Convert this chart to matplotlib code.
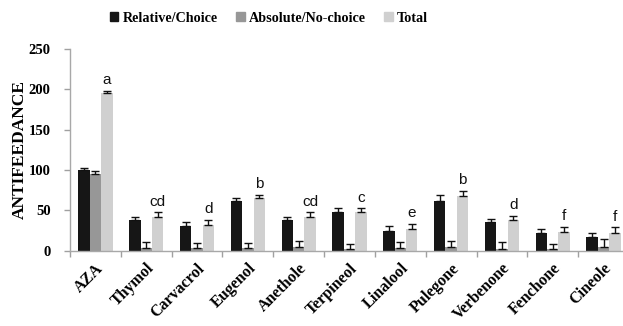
import matplotlib
matplotlib.use("Agg")
import matplotlib.pyplot as plt
from matplotlib.patches import Patch
import numpy as np

categories = ["AZA", "Thymol", "Carvacrol", "Eugenol", "Anethole", "Terpineol",
              "Linalool", "Pulegone", "Verbenone", "Fenchone", "Cineole"]
relative = [100, 38, 30, 62, 38, 48, 24, 62, 35, 21.5, 16.5]
relative_err = [3, 4, 5, 3, 4, 5, 6, 6.5, 4, 6, 5.5]
absolute = [94.5, 3.5, 3, 3, 4, 2, 3, 5, 2.5, 2, 5]
absolute_err = [4.5, 7.5, 6, 6, 8, 6, 8, 6.5, 8, 6, 9.5]
total = [195, 42, 32, 65, 42, 48, 27.5, 68, 38, 23.5, 22.5]
total_err = [3, 5.5, 6.5, 4.5, 5.5, 4.5, 5.5, 6, 5, 6, 6.5]
letters = ["a", "cd", "d", "b", "cd", "c", "e", "b", "d", "f", "f"]
series_names = ["Relative/Choice", "Absolute/No-choice", "Total"]
colors = ["#161616", "#979797", "#d0d0d0"]

fig = plt.figure(figsize=(6.23, 3.26), dpi=100)
ax = fig.add_axes([70/623, 75.3/326, 559/623, 201.8/326])

x = np.arange(len(categories))
w = 0.225
serif = "Liberation Serif"
for vals, errs, off, c in zip([relative, absolute, total],
                              [relative_err, absolute_err, total_err],
                              [-w, 0, w], colors):
    ax.bar(x + off, vals, width=w, color=c, zorder=2)
    ax.errorbar(x + off, vals, yerr=[np.zeros(len(errs)), errs], fmt="none",
                ecolor="#111111", elinewidth=1, capsize=3, capthick=1, zorder=3)

for xi, v, e, lab in zip(x, total, total_err, letters):
    ax.text(xi + w, v + e + 4.5, lab, ha="center", va="bottom",
            fontsize=11, family="Liberation Sans", color="#111111")

ax.set_xlim(-0.5, 10.5)
ax.set_ylim(0, 250)
ax.set_yticks([0, 50, 100, 150, 200, 250])
ax.set_yticklabels([str(v) for v in [0, 50, 100, 150, 200, 250]],
                   family=serif, fontweight="bold", fontsize=10.5)
ax.set_xticks(x)
ax.set_xticklabels(categories, rotation=45, ha="right", rotation_mode="anchor",
                   family=serif, fontweight="bold", fontsize=11.5)
ax.set_xticks(np.arange(-0.5, 10.6, 1), minor=True)
ax.tick_params(axis="x", which="major", length=0, pad=7)
ax.tick_params(axis="x", which="minor", length=4, color="#a0a0a0", width=1)
ax.tick_params(axis="y", length=4, color="#a0a0a0", width=1, pad=10)

for s in ["top", "right"]:
    ax.spines[s].set_visible(False)
for s in ["left", "bottom"]:
    ax.spines[s].set_color("#a8a8a8")
    ax.spines[s].set_linewidth(1)

ax.set_ylabel("ANTIFEEDANCE", family=serif, fontweight="bold", fontsize=12.5,
              labelpad=0.5)

handles = [Patch(color=c) for c in colors]
fig.legend(handles, series_names, loc="center", bbox_to_anchor=(269/623, 1 - 18/326),
           ncol=3, frameon=False, handlelength=0.6, handleheight=0.6,
           handletextpad=0.3, columnspacing=1.3,
           prop={"family": serif, "weight": "bold", "size": 10.2})

fig.savefig("out.png", dpi=100)
